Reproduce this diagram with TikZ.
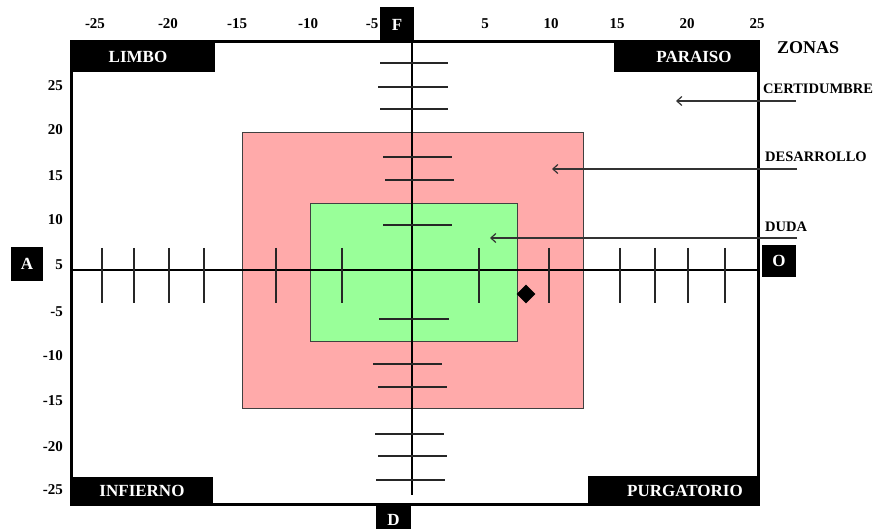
\documentclass[tikz,border=0pt]{standalone}
\usepackage{fontspec}
\setmainfont{Liberation Serif}
\usetikzlibrary{arrows.meta,shapes.geometric}
\definecolor{rosa}{RGB}{255,170,170}
\definecolor{verde}{RGB}{153,255,153}

\begin{document}
\begin{tikzpicture}[x=1pt,y=-1pt,>={Straight Barb[length=5pt,width=9pt]},
    caja/.style={text=white,inner sep=0pt,font=\bfseries\fontsize{17}{17}\selectfont},
    num/.style={inner sep=0pt,font=\bfseries\fontsize{15}{15}\selectfont},
    zona/.style={inner sep=0pt,anchor=west,font=\bfseries\fontsize{14.5}{14.5}\selectfont},
    eje/.style={line width=1.5pt},
    marca/.style={line width=1.2pt,black!85}]
      \useasboundingbox (0,0) rectangle (878,529);
      % zonas
        \filldraw[fill=rosa,draw=black!75,line width=1pt] (242,133) rectangle (583,408);
        \filldraw[fill=verde,draw=black!75,line width=1pt] (310,204) rectangle (517,341);
      % marco y esquinas
        \draw[line width=3pt] (71,42) rectangle (758,504);
        \fill (71,42) rectangle (215,72);
        \fill (614,42) rectangle (758,72);
        \fill (71,477) rectangle (213,504);
        \fill (588,476) rectangle (758,504);
        \node[caja] (limbo) at (138,57) {LIMBO};
        \node[caja] (paraiso) at (694,57) {PARAISO};
        \node[caja] (infierno) at (142,491) {INFIERNO};
        \node[caja] (purgatorio) at (685,491) {PURGATORIO};
      % ejes
        \draw[eje] (71,270) -- (758,270);
        \draw[eje] (412,42) -- (412,495);
        \foreach \x in {102,134,169,204,276,342,479,549,620,655,688,725}
          \draw[marca] (\x,248) -- (\x,303);
        \foreach \y/\a/\b in {63/380/448,87/378/448,109/380/448,157/383/452,
                180/385/454,225/383/452,319/379/449,364/373/442,387/378/447,
                434/375/444,456/378/447,480/376/445}
          \draw[marca] (\a,\y) -- (\b,\y);
      % extremos de los ejes
        \node[caja,fill=black,minimum width=32pt,minimum height=34pt] (A) at (27,264) {A};
        \node[caja,fill=black,minimum width=34pt,minimum height=32pt] (O) at (779,261) {O};
        \node[caja,fill=black,minimum width=34pt,minimum height=35pt] (F) at (397,24.5) {F};
        \node[caja,fill=black,minimum width=35pt,minimum height=30pt] (D) at (393.5,520) {D};
      % escalas
        \foreach \x/\v [count=\i] in {95/-25,168/-20,237/-15,308/-10,372/-5,
                485/5,551/10,617/15,687/20,757/25}
          \node[num] (nx\i) at (\x,24) {\v};
        \foreach \y/\v [count=\i] in {86/25,130/20,176/15,220/10,265/5,
                312/-5,356/-10,401/-15,447/-20,490/-25}
          \node[num,anchor=east] (ny\i) at (63,\y) {\v};
      % leyenda
        \node[zona,font=\bfseries\fontsize{18}{18}\selectfont] (zonas) at (777,48) {ZONAS};
        \node[zona] (certidumbre) at (763,89) {CERTIDUMBRE};
        \node[zona] (desarrollo) at (765,157) {DESARROLLO};
        \node[zona] (duda) at (765,227) {DUDA};
        \coordinate (c1) at (796,101);  \coordinate (c2) at (676,101);
        \coordinate (d1) at (797,169);  \coordinate (d2) at (552,169);
        \coordinate (u1) at (797,238);  \coordinate (u2) at (490,238);
        \draw[->,line width=1.2pt,black!80] (c1) -- (c2);
        \draw[->,line width=1.2pt,black!80] (d1) -- (d2);
        \draw[->,line width=1.2pt,black!80] (u1) -- (u2);
      % punto
        \node[diamond,fill=black,inner sep=0pt,minimum size=19pt] (punto) at (526,294) {};
\end{tikzpicture}
\end{document}
